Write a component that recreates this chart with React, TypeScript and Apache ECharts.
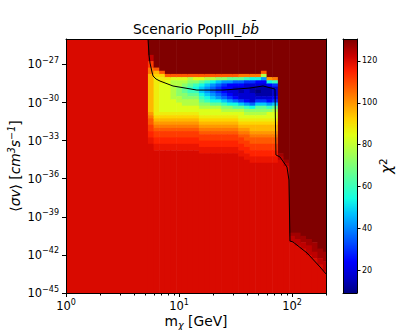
import React, { useEffect, useRef } from "react";
import * as echarts from "echarts";

// ---------------- data ----------------
// Mass bands (GeV). First band is the flat region left of the b-quark threshold.
const MASS_EDGES_GEV = [
  1, 5.31, 5.96, 6.68, 7.5, 8.41, 9.44, 10.6, 11.9, 13.3, 15.0, 16.8, 18.8, 21.1,
  23.7, 26.6, 29.9, 33.5, 37.6, 42.2, 47.3, 53.1, 59.6, 66.8, 75.0, 84.1, 94.4,
  106, 119, 133, 150, 168, 188, 200,
];
// Cross-section rows: 10^-25 down to 10^-45 in quarter decades.
const SIGMA_TOP_EXP = -25;
const SIGMA_BOTTOM_EXP = -45;
const SIGMA_ROW_STEP = 0.25;

// chi^2 levels, each keyed by one character.
const CHI2_LEVEL_KEYS = "0123456789abcdefghijklmnopq";
const CHI2_LEVELS = [
  9, 13, 18, 24, 30, 36, 42, 48, 54, 60, 66, 72, 78, 84, 88, 92, 96, 100, 104,
  108, 112, 115, 118, 120.5, 124, 127, 130.5,
];

// One entry per mass band, top (10^-25) to bottom (10^-45):
// runs of "<level key><number of rows>" (80 rows per band).
const CHI2_COLUMNS = [
  "n80",
  "q5 o2 k2 i2 g12 h1 i1 j2 k2 l2 m2 n47",
  "q9 j1 g1 f1 e11 e1 f1 g1 h1 i1 j1 k2 l2 m2 n45",
  "q10 j1 f1 e2 d9 e1 f1 g1 h1 i1 j1 k2 l2 m2 n45",
  "q11 j1 e1 d10 e1 f1 g1 h1 i1 j1 k2 l2 m2 n45",
  "q11 j1 d1 c6 d4 e1 f1 g1 h1 i1 j1 k2 l2 m2 n45",
  "q11 j1 d1 c2 b3 c2 d3 e1 f1 g1 h1 i1 j1 k2 l2 m2 n45",
  "q11 j1 d1 c1 b1 a2 b2 c2 d2 e1 f1 g1 h1 i1 j1 k2 l2 m2 n45",
  "q11 j1 c1 b1 a1 92 a1 b1 c2 d2 e1 f1 g1 h1 i1 j1 k2 l2 m2 n45",
  "q11 j1 d1 b1 91 81 91 a1 b1 c2 d2 e1 f1 g1 h1 i1 j1 k2 l2 m2 n45",
  "q11 j1 d1 a1 81 72 81 91 a1 b1 c1 d2 e1 f1 g1 h1 i1 j1 k2 l2 m2 n44",
  "q11 j1 c1 91 71 62 71 81 91 b1 c1 d2 e1 f1 g1 h1 i1 j1 k2 l2 m2 n44",
  "q11 j1 c1 81 61 52 61 71 81 a1 c1 d2 e1 f1 g1 h1 i1 j1 k2 l2 m2 n44",
  "q11 j1 b1 71 51 42 51 61 81 a1 c1 d2 e1 f1 g1 h1 i1 j1 k2 l2 m2 n44",
  "q11 j1 b1 61 41 32 41 51 71 91 b1 c1 d1 e1 f1 g1 h1 i1 j1 k2 l2 m2 n44",
  "q11 j1 a1 61 32 21 31 41 61 81 b1 c1 d1 e1 f1 g1 h1 i1 j1 k2 l2 m2 n44",
  "q11 j1 a1 51 31 23 31 51 81 a1 c1 d1 e1 f1 g1 h1 i1 j1 k2 l2 m2 n44",
  "q11 i1 a1 51 31 21 11 22 41 71 a1 c1 d2 e1 f1 g1 h1 i1 j1 k2 l2 m2 n43",
  "q11 i1 91 41 25 31 61 91 b1 c1 d1 e1 f1 g1 h1 i1 j2 k2 l2 m2 n42",
  "q11 i1 81 41 21 12 23 51 81 b1 c1 d1 e1 f1 g2 h1 i1 j2 k2 l2 m2 n41",
  "q11 i1 81 31 21 11 01 11 21 41 71 a1 b1 c1 d1 e1 f1 g2 h1 i1 j2 k2 l2 m2 n41",
  "q10 j1 c1 61 31 21 13 21 41 71 a1 b1 c1 d1 e1 f1 g2 h1 i1 j2 k2 l2 m2 n41",
  "q12 h1 81 31 13 21 31 61 91 b1 d2 e1 f1 g2 h1 i1 j2 k2 l2 m2 n41",
  "q12 i1 91 41 23 31 41 71 a1 c1 d2 e1 f1 g2 h1 i1 j2 k2 l2 m2 n41",
  "q36 p1 o1 n42",
  "q38 p1 o1 n40",
  "q61 p1 o2 n16",
  "q61 p2 o2 n15",
  "q62 p2 o2 n14",
  "q63 p2 o3 n12",
  "q64 p3 o2 n11",
  "q66 p3 o2 n9",
  "q67 p3 o3 n7",
];

// Black contour line.
const CONTOUR_MASS_GEV = [
  5.32, 5.43, 5.54, 5.77, 5.89, 6.26, 6.79, 8.85, 14.4, 24.5, 42.5, 55.4, 60.1,
  70.7, 72.1, 78.3, 90.3, 94.0, 96.0, 102, 136, 177, 200,
];
const CONTOUR_SIGMA_EXP = [
  -25.0, -26.26, -26.89, -27.6, -27.91, -28.15, -28.31, -28.7, -29.02, -29.02,
  -28.86, -28.7, -28.78, -28.94, -34.13, -34.29, -35.08, -36.1, -40.91, -40.98,
  -41.85, -42.95, -43.5,
];

// Axes.
const X_MAJOR_EXP = [0, 1, 2];
const X_MINOR_GEV = [2, 3, 4, 5, 6, 7, 8, 9, 20, 30, 40, 50, 60, 70, 80, 90, 200];
const Y_MAJOR_EXP = [-45, -42, -39, -36, -33, -30, -27];
const CBAR_MIN = 9;
const CBAR_MAX = 130.5;
const CBAR_TICKS = [20, 40, 60, 80, 100, 120];

// matplotlib "jet" colour map sampled at 17 even stops.
const JET = [
  "#000080", "#0000c8", "#0000ff", "#0040ff", "#0080ff", "#00bfff", "#15ffe2",
  "#48ffae", "#7bff7b", "#aeff48", "#e2ff15", "#ffd200", "#ff9700", "#ff5c00",
  "#ff2100", "#c80000", "#800000",
];

const FONT = "DejaVu Sans";
const ROWS = Math.round((SIGMA_TOP_EXP - SIGMA_BOTTOM_EXP) / SIGMA_ROW_STEP);

function buildCells(): number[][] {
  const cells: number[][] = [];
  CHI2_COLUMNS.forEach((code, c) => {
    const x0 = Math.log10(MASS_EDGES_GEV[c]);
    const x1 = Math.log10(MASS_EDGES_GEV[c + 1]);
    let row = 0;
    code.trim().split(/\s+/).forEach((run) => {
      const value = CHI2_LEVELS[CHI2_LEVEL_KEYS.indexOf(run[0])];
      const n = parseInt(run.slice(1), 10);
      const yTop = SIGMA_TOP_EXP - SIGMA_ROW_STEP * row;
      const yBot = SIGMA_TOP_EXP - SIGMA_ROW_STEP * (row + n);
      cells.push([x0, x1, yBot, yTop, value]);
      row += n;
    });
    if (row !== ROWS) console.warn("column", c, "has", row, "rows");
  });
  return cells;
}

function buildColorbar(): number[][] {
  const out: number[][] = [];
  const steps = 254;
  const dv = (CBAR_MAX - CBAR_MIN) / steps;
  for (let i = 0; i < steps; i++) {
    const v0 = CBAR_MIN + i * dv;
    out.push([0, 1, v0, v0 + dv, v0 + dv / 2]);
  }
  return out;
}

const rectItem = (params: any, api: any) => {
  const p0 = api.coord([api.value(0), api.value(3)]);
  const p1 = api.coord([api.value(1), api.value(2)]);
  return {
    type: "rect",
    shape: {
      x: p0[0],
      y: p0[1],
      width: p1[0] - p0[0] + 0.6,
      height: p1[1] - p0[1] + 0.6,
    },
    style: { fill: api.visual("color") },
  };
};

const tickRich = {
  b: { fontFamily: FONT, fontSize: 11.5, lineHeight: 16, color: "#000" },
  s: { fontFamily: FONT, fontSize: 8, lineHeight: 8, verticalAlign: "top", color: "#000" },
};

const lineOnly = (extra: any) => ({
  type: "value",
  axisLine: { show: true, onZero: false, lineStyle: { color: "#000", width: 1 } },
  axisTick: { show: false },
  axisLabel: { show: false },
  splitLine: { show: false },
  z: 10,
  ...extra,
});

export default function App() {
  const ref = useRef<HTMLDivElement>(null);
  useEffect(() => {
    if (!ref.current) return;
    const chart = echarts.init(ref.current, undefined, { renderer: "svg" });
    const xMax = Math.log10(200);
    const option: any = {
      animation: false,
      backgroundColor: "#fff",
      textStyle: { fontFamily: FONT },
      grid: [
        { left: 66, top: 39, width: 260, height: 254 },
        { left: 343, top: 39, width: 14, height: 254 },
      ],
      visualMap: {
        type: "continuous",
        show: false,
        min: CBAR_MIN,
        max: CBAR_MAX,
        dimension: 4,
        seriesIndex: [0, 2],
        inRange: { color: JET },
      },
      xAxis: [
        {
          type: "value",
          gridIndex: 0,
          min: 0,
          max: xMax,
          position: "bottom",
          axisLine: { show: true, onZero: false, lineStyle: { color: "#000", width: 1 } },
          axisTick: { show: true, customValues: X_MAJOR_EXP, length: 4, lineStyle: { color: "#000" } },
          axisLabel: {
            customValues: X_MAJOR_EXP,
            margin: 5,
            formatter: (v: number) => `{b|10}{s|${Math.round(v)}}`,
            rich: tickRich,
          },
          splitLine: { show: false },
          z: 10,
        },
        {
          type: "value",
          gridIndex: 0,
          min: 0,
          max: xMax,
          position: "bottom",
          axisLine: { show: false, onZero: false },
          axisTick: {
            show: true,
            customValues: X_MINOR_GEV.map((m) => Math.log10(m)),
            length: 2.5,
            lineStyle: { color: "#000" },
          },
          axisLabel: { show: false },
          splitLine: { show: false },
          z: 10,
        },
        lineOnly({ gridIndex: 0, min: 0, max: xMax, position: "top" }),
        lineOnly({ gridIndex: 1, min: 0, max: 1, position: "bottom" }),
        lineOnly({ gridIndex: 1, min: 0, max: 1, position: "top" }),
      ],
      yAxis: [
        {
          type: "value",
          gridIndex: 0,
          min: SIGMA_BOTTOM_EXP,
          max: SIGMA_TOP_EXP,
          position: "left",
          axisLine: { show: true, onZero: false, lineStyle: { color: "#000", width: 1 } },
          axisTick: { show: true, customValues: Y_MAJOR_EXP, length: 4, lineStyle: { color: "#000" } },
          axisLabel: {
            customValues: Y_MAJOR_EXP,
            margin: 7,
            formatter: (v: number) => `{b|10}{s|\u2212${Math.abs(Math.round(v))}}`,
            rich: tickRich,
          },
          splitLine: { show: false },
          z: 10,
        },
        lineOnly({ gridIndex: 0, min: SIGMA_BOTTOM_EXP, max: SIGMA_TOP_EXP, position: "right" }),
        {
          type: "value",
          gridIndex: 1,
          min: CBAR_MIN,
          max: CBAR_MAX,
          position: "right",
          axisLine: { show: true, onZero: false, lineStyle: { color: "#000", width: 1 } },
          axisTick: { show: true, customValues: CBAR_TICKS, length: 3.5, lineStyle: { color: "#000" } },
          axisLabel: {
            customValues: CBAR_TICKS,
            margin: 5,
            fontFamily: FONT,
            fontSize: 8,
            color: "#000",
          },
          splitLine: { show: false },
          z: 10,
        },
        lineOnly({ gridIndex: 1, min: CBAR_MIN, max: CBAR_MAX, position: "left" }),
      ],
      series: [
        {
          type: "custom",
          xAxisIndex: 0,
          yAxisIndex: 0,
          clip: true,
          renderItem: rectItem,
          data: buildCells(),
          silent: true,
        },
        {
          type: "line",
          xAxisIndex: 0,
          yAxisIndex: 0,
          clip: true,
          symbol: "none",
          lineStyle: { color: "#000", width: 1 },
          data: CONTOUR_MASS_GEV.map((m, i) => [Math.log10(m), CONTOUR_SIGMA_EXP[i]]),
          z: 5,
          silent: true,
        },
        {
          type: "custom",
          xAxisIndex: 3,
          yAxisIndex: 2,
          clip: true,
          renderItem: rectItem,
          data: buildColorbar(),
          silent: true,
        },
      ],
      graphic: {
        elements: [
          {
            type: "text",
            x: 196,
            y: 29,
            style: {
              text: "{r|Scenario PopIII_}{i|bb\u0304}",
              align: "center",
              verticalAlign: "middle",
              fill: "#000",
              font: `13.8px ${FONT}`,
              rich: {
                r: { fontFamily: FONT, fontSize: 13.8 },
                i: { fontFamily: FONT, fontSize: 13.8, fontStyle: "italic" },
              },
            },
          },
          {
            type: "text",
            x: 15,
            y: 166,
            rotation: Math.PI / 2,
            style: {
              text: "{r|\u27e8}{i|\u03c3v}{r|\u27e9 [}{i|cm}{s|3}{i|s}{s|\u22121}{r|]}",
              align: "center",
              verticalAlign: "middle",
              fill: "#000",
              font: `13.8px ${FONT}`,
              rich: {
                r: { fontFamily: FONT, fontSize: 13.8, lineHeight: 18 },
                i: { fontFamily: FONT, fontSize: 13.8, fontStyle: "italic", lineHeight: 18 },
                s: { fontFamily: FONT, fontSize: 9.7, fontStyle: "italic", lineHeight: 10, verticalAlign: "top" },
              },
            },
          },
          {
            type: "text",
            x: 196,
            y: 321,
            style: {
              text: "{r|m}{d|\u03c7}{r| [GeV]}",
              align: "center",
              verticalAlign: "middle",
              fill: "#000",
              font: `13.8px ${FONT}`,
              rich: {
                r: { fontFamily: FONT, fontSize: 13.8, lineHeight: 18 },
                d: { fontFamily: FONT, fontSize: 9.7, fontStyle: "italic", lineHeight: 10, verticalAlign: "bottom" },
              },
            },
          },
          {
            type: "text",
            x: 387,
            y: 166,
            rotation: Math.PI / 2,
            style: {
              text: "{i|\u03c7}{s|2}",
              align: "center",
              verticalAlign: "middle",
              fill: "#000",
              font: `15px ${FONT}`,
              rich: {
                i: { fontFamily: FONT, fontSize: 15, fontStyle: "italic", lineHeight: 20 },
                s: { fontFamily: FONT, fontSize: 10.5, lineHeight: 11, verticalAlign: "top" },
              },
            },
          },
        ],
      },
    };
    chart.setOption(option);
    return () => chart.dispose();
  }, []);
  return (
    <div
      ref={ref}
      style={{ position: "fixed", left: 0, top: 0, width: 413, height: 330, background: "#fff" }}
    />
  );
}
